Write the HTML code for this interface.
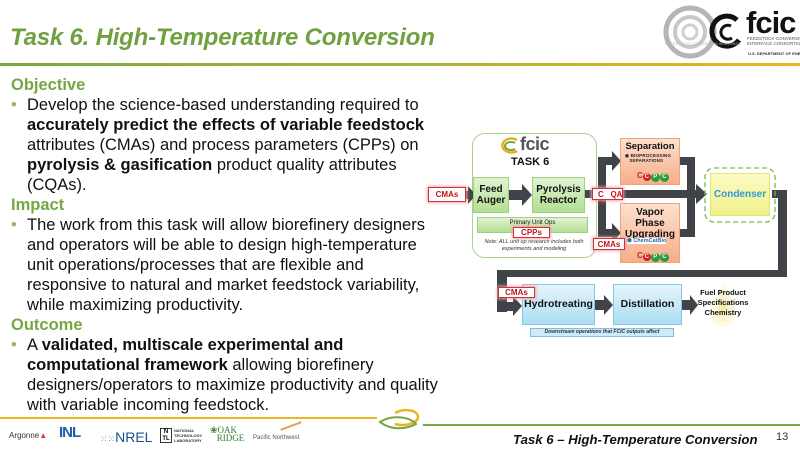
<!DOCTYPE html>
<html><head><meta charset="utf-8">
<style>
*{margin:0;padding:0;box-sizing:border-box}
body{width:800px;height:450px;overflow:hidden;background:#fff;font-family:"Liberation Sans",Arial,sans-serif;position:relative}
.abs{position:absolute}
.title{left:10px;top:24px;font-size:24px;font-weight:bold;font-style:italic;color:#71a040;white-space:nowrap;letter-spacing:-0.2px}
.hline{left:0;top:63px;width:800px;height:3px;background:linear-gradient(90deg,#7aa843 0%,#a8b23a 50%,#e8b820 100%)}
.body{left:0;top:75px;font-size:16.5px;line-height:20px;color:#111;white-space:nowrap}
.body .h{color:#76a744;font-weight:bold;padding-left:11px}
.body .l{padding-left:27px;position:relative}
.body .b:before{content:"•";position:absolute;left:11px;color:#8fb86a}
.body b{font-weight:bold}
.box{position:absolute;display:flex;align-items:center;justify-content:center;text-align:center;font-weight:bold;color:#111;line-height:1.15}
.green{background:linear-gradient(#e2f3d2,#b3df93);border:1px solid #9fcf80;font-size:10px}
.salmon{background:linear-gradient(#fde0cf,#f6ae88);border:1px solid #f0a47a;font-size:9.5px}
.blue{background:linear-gradient(#e6f5fc,#abddf4);border:1px solid #86c8ea;font-size:10.5px}
.tag{position:absolute;background:#fff;border:1px solid #c8343a;box-shadow:0 0 3px 1px #f0a3a6;color:#c0141c;font-weight:bold;font-size:8px;display:flex;align-items:center;justify-content:center}
.ccpc{position:absolute;font-size:8px;font-weight:bold;white-space:nowrap}
</style></head><body>

<div class="abs title">Task 6. High-Temperature Conversion</div>
<div class="abs hline"></div>

<!-- header logo -->
<svg class="abs" style="left:655px;top:0" width="145" height="64">
  <circle cx="35" cy="32" r="24" fill="none" stroke="#b5b5b5" stroke-width="5"/>
  <circle cx="35" cy="32" r="15" fill="none" stroke="#c8c8c8" stroke-width="4"/>
  <circle cx="35" cy="32" r="7" fill="none" stroke="#d0d0d0" stroke-width="3"/>
  <path d="M82 20 A15 15 0 1 0 84 40" fill="none" stroke="#111" stroke-width="5"/>
  <path d="M76 26 A7 7 0 1 0 77 38" fill="none" stroke="#111" stroke-width="3"/>
  <text x="91" y="33" font-family="Liberation Sans" font-weight="bold" font-size="31" fill="#111" letter-spacing="-1">fcic</text>
  <text x="92" y="40" font-family="Liberation Sans" font-size="4.5" fill="#555">FEEDSTOCK-CONVERSION</text>
  <text x="92" y="45" font-family="Liberation Sans" font-size="4.5" fill="#555">INTERFACE CONSORTIUM</text>
  <text x="10" y="45" font-family="Liberation Sans" font-size="4" fill="#bbb">FEEDSTOCK-CONVERSION INTERFACE</text>
  <text x="93" y="55" font-family="Liberation Sans" font-size="4" font-weight="bold" fill="#333">U.S. DEPARTMENT OF ENERGY</text>
</svg>

<div class="abs body">
  <div class="h">Objective</div>
  <div class="l b">Develop the science-based understanding required to</div>
  <div class="l"><b>accurately predict the effects of variable feedstock</b></div>
  <div class="l">attributes (CMAs) and process parameters (CPPs) on</div>
  <div class="l"><b>pyrolysis &amp; gasification</b> product quality attributes</div>
  <div class="l">(CQAs).</div>
  <div class="h">Impact</div>
  <div class="l b">The work from this task will allow biorefinery designers</div>
  <div class="l">and operators will be able to design high-temperature</div>
  <div class="l">unit operations/processes that are flexible and</div>
  <div class="l">responsive to natural and market feedstock variability,</div>
  <div class="l">while maximizing productivity.</div>
  <div class="h">Outcome</div>
  <div class="l b">A <b>validated, multiscale experimental and</b></div>
  <div class="l"><b>computational framework</b> allowing biorefinery</div>
  <div class="l">designers/operators to maximize productivity and quality</div>
  <div class="l">with variable incoming feedstock.</div>
</div>

<!-- Task 6 container -->
<div class="abs" style="left:472px;top:133px;width:125px;height:125px;border:1px solid #a9d28d;border-radius:13px;background:#fff"></div>

<!-- connectors -->
<svg class="abs" style="left:0;top:0" width="800" height="450">
  <g fill="#404448">
    <rect x="464" y="191" width="5" height="8"/><polygon points="468,186 476,195 468,204"/>
    <rect x="509" y="190" width="14" height="10"/><polygon points="522,184 532,195 522,206"/>
    <rect x="585" y="190" width="13" height="8"/>
    <rect x="598" y="157" width="8" height="80"/>
    <rect x="598" y="157" width="15" height="8"/><polygon points="612,151 621,161 612,171"/>
    <rect x="598" y="229" width="15" height="8"/><polygon points="612,223 621,233 612,243"/>
    <rect x="606" y="190" width="92" height="8"/><polygon points="696,184 707,194 696,204"/>
    <rect x="680" y="157" width="15" height="8"/>
    <rect x="680" y="229" width="15" height="8"/>
    <rect x="687" y="157" width="8" height="80"/>
    <rect x="772" y="190" width="15" height="8"/>
    <rect x="778" y="190" width="9" height="87"/>
    <rect x="497" y="270" width="290" height="7"/>
    <rect x="497" y="270" width="10" height="42"/>
    <rect x="497" y="302" width="17" height="9"/><polygon points="513,296 522,306 513,316"/>
    <rect x="595" y="300" width="10" height="10"/><polygon points="604,295 613,305 604,315"/>
    <rect x="682" y="300" width="9" height="10"/><polygon points="690,295 698,305 690,315"/>
  </g>
  <rect x="705" y="168" width="70" height="54" rx="9" fill="none" stroke="#7ab648" stroke-width="1.3" stroke-dasharray="5,3"/>
  <defs><radialGradient id="dg" cx="50%" cy="55%" r="55%"><stop offset="0" stop-color="#f6e7a0"/><stop offset="1" stop-color="#fdf8e4" stop-opacity="0.4"/></radialGradient></defs>
  <path d="M723 283 C715 298 708 308 710 318 C712 330 734 330 736 318 C738 308 731 298 723 283 Z" fill="url(#dg)"/>
  <path d="M517 140 A9 7 0 1 0 517 151" fill="none" stroke="#e0b422" stroke-width="2.5"/>
  <path d="M515 143 A6 4 0 1 0 515 149" fill="none" stroke="#76a744" stroke-width="2"/>
  <rect x="0" y="417" width="377" height="2" fill="#eeb524"/>
  <rect x="423" y="424" width="377" height="2" fill="#7aa843"/>
  <path d="M395 413 C405 408 418 410 418 417 C418 423 405 427 395 424" fill="none" stroke="#e8b524" stroke-width="2.5"/>
  <path d="M380 422 C392 414 410 417 416 424 C405 430 390 430 380 422 Z" fill="none" stroke="#76a744" stroke-width="2"/>
</svg>

<div class="abs" style="left:520px;top:134px;font-size:18px;font-weight:bold;color:#555;letter-spacing:-0.5px">fcic</div>
<div class="abs" style="left:511px;top:156px;font-size:11px;font-weight:bold;color:#111">TASK 6</div>

<div class="box green" style="left:473px;top:177px;width:36px;height:36px">Feed<br>Auger</div>
<div class="box green" style="left:532px;top:177px;width:53px;height:36px">Pyrolysis<br>Reactor</div>
<div class="box green" style="left:477px;top:217px;width:111px;height:16px;font-size:6px;font-weight:normal;align-items:flex-start;padding-top:2px">Primary Unit Ops</div>
<div class="abs" style="left:474px;top:239px;width:120px;text-align:center;font-size:5.5px;font-style:italic;color:#333;line-height:7px">Note: ALL unit op research includes both<br>experiments and modeling</div>

<div class="box salmon" style="left:620px;top:138px;width:60px;height:47px;align-items:flex-start;padding-top:3px">Separation</div>
<div class="abs" style="left:625px;top:153px;font-size:4.5px;font-weight:bold;color:#222;line-height:5px;letter-spacing:0.2px">◉ BIOPROCESSING<br>&nbsp;&nbsp;&nbsp;SEPARATIONS</div>
<div class="ccpc" style="left:637px;top:171px"><span style="color:#d02020">C</span><span style="display:inline-block;width:8px;height:8px;border-radius:50%;background:#d02020;color:#fff;font-size:6px;text-align:center;line-height:8px">C</span><span style="display:inline-block;width:9px;height:9px;border-radius:50%;background:#2a9a3a;color:#fff;font-size:6px;text-align:center;line-height:9px">P</span><span style="display:inline-block;width:9px;height:9px;border-radius:50%;background:#2a9a3a;color:#fff;font-size:6px;text-align:center;line-height:9px">C</span></div>

<div class="box salmon" style="left:620px;top:203px;width:60px;height:60px;align-items:flex-start;padding-top:3px;font-size:10px;line-height:11px">Vapor<br>Phase<br>Upgrading</div>
<div class="abs" style="left:627px;top:238px;font-size:5.5px;font-weight:bold;color:#2a6fb0;background:#fff">⬢ ChemCatBio</div>
<div class="ccpc" style="left:637px;top:251px"><span style="color:#d02020">C</span><span style="display:inline-block;width:8px;height:8px;border-radius:50%;background:#d02020;color:#fff;font-size:6px;text-align:center;line-height:8px">C</span><span style="display:inline-block;width:9px;height:9px;border-radius:50%;background:#2a9a3a;color:#fff;font-size:6px;text-align:center;line-height:9px">P</span><span style="display:inline-block;width:9px;height:9px;border-radius:50%;background:#2a9a3a;color:#fff;font-size:6px;text-align:center;line-height:9px">C</span></div>

<div class="box" style="left:710px;top:173px;width:60px;height:43px;background:linear-gradient(#fbfbc4,#f1f18a);border:1px solid #e2e27a;color:#2a9ad2;font-size:10px">Condenser</div>

<div class="box blue" style="left:522px;top:284px;width:73px;height:41px">Hydrotreating</div>
<div class="box blue" style="left:613px;top:284px;width:69px;height:41px">Distillation</div>
<div class="abs" style="left:530px;top:328px;width:144px;height:9px;background:#cfeaf8;border:1px solid #7fbfe2;font-size:5px;font-style:italic;font-weight:bold;color:#234;text-align:center;line-height:7px">Downstream operations that FCIC outputs affect</div>
<div class="abs" style="left:693px;top:288px;width:60px;text-align:center;font-size:7.5px;font-weight:bold;color:#111;line-height:10px">Fuel Product<br>Specifications<br>Chemistry</div>

<div class="tag" style="left:428px;top:187px;width:38px;height:15px">CMAs</div>
<div class="tag" style="left:513px;top:227px;width:37px;height:11px">CPPs</div>
<div class="tag" style="left:592px;top:188px;width:31px;height:12px;justify-content:flex-start;padding-left:5px">C&nbsp;&nbsp;&nbsp;QA</div>
<div class="abs" style="left:598px;top:200px;font-size:7px;font-weight:bold;color:#c0141c">s</div>
<div class="tag" style="left:593px;top:238px;width:32px;height:12px">CMAs</div>
<div class="tag" style="left:498px;top:287px;width:37px;height:11px">CMAs</div>

<div class="abs" style="left:9px;top:431px;font-size:8px;color:#333;white-space:nowrap">Argonne<span style="color:#d33">▲</span></div>
<div class="abs" style="left:59px;top:424px;font-size:15px;font-weight:bold;color:#1a5fa8;letter-spacing:-1px">INL</div>
<div class="abs" style="left:100px;top:429px;font-size:14px;color:#1b4f8f;white-space:nowrap"><span style="font-size:9px;color:#4a8ac8">⁙⁙</span>NREL</div>
<div class="abs" style="left:160px;top:428px;width:12px;height:15px;border:1px solid #333;font-size:6px;font-weight:bold;line-height:7px;text-align:center">N<br>TL</div>
<div class="abs" style="left:174px;top:428px;font-size:4px;color:#333;line-height:5px;font-weight:bold">NATIONAL<br>TECHNOLOGY<br>LABORATORY</div>
<div class="abs" style="left:210px;top:426px;font-size:9px;color:#2f7d32;font-family:'Liberation Serif',serif;line-height:8px;white-space:nowrap">❀OAK<br>&nbsp;&nbsp;&nbsp;RIDGE</div>
<div class="abs" style="left:253px;top:435px;font-size:6px;color:#555;white-space:nowrap">Pacific Northwest</div>
<div class="abs" style="left:280px;top:425px;width:22px;height:2px;background:#e0a060;transform:rotate(-20deg)"></div>

<div class="abs" style="left:513px;top:432px;font-size:13.2px;font-weight:bold;font-style:italic;color:#111;white-space:nowrap">Task 6 – High-Temperature Conversion</div>
<div class="abs" style="left:776px;top:431px;font-size:11px;color:#333">13</div>

</body></html>
